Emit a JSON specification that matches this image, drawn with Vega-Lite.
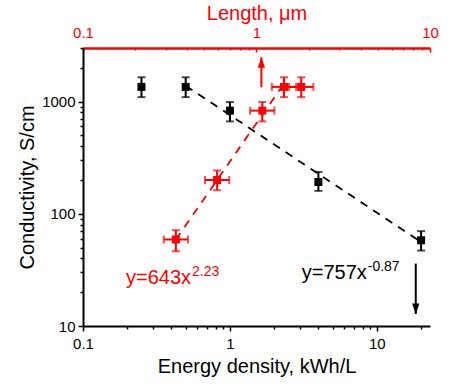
{
  "$schema": "https://vega.github.io/schema/vega-lite/v6.json",
  "width": 347,
  "height": 278,
  "autosize": {"type": "none"},
  "padding": {"left": 83, "top": 48, "right": 42, "bottom": 61},
  "config": {
    "view": {"stroke": null},
    "font": "Liberation Sans",
    "axis": {
      "grid": false,
      "labelFont": "Liberation Sans",
      "titleFont": "Liberation Sans",
      "labelFontSize": 15,
      "titleFontSize": 20,
      "titleFontWeight": "normal",
      "labelOverlap": false,
      "labelFlush": false,
      "domainWidth": 2,
      "tickWidth": 1.5
    }
  },
  "datasets": {
    "black": [
      {"e": 0.25, "s": 1350, "lo": 1095, "hi": 1645},
      {"e": 0.5, "s": 1350, "lo": 1095, "hi": 1645},
      {"e": 1, "s": 830, "lo": 665, "hi": 990},
      {"e": 4, "s": 192, "lo": 160, "hi": 236},
      {"e": 20, "s": 58, "lo": 47, "hi": 70}
    ],
    "blackfit": [
      {"e": 0.5, "s": 1384},
      {"e": 20, "s": 56}
    ],
    "blackarrow": [
      {"e": 18.4, "top": 36, "tip": 12.8}
    ],
    "red": [
      {"l": 0.343, "s": 59, "lo": 46.4, "hi": 71.4, "llo": 0.292, "lhi": 0.403},
      {"l": 0.593, "s": 200, "lo": 162, "hi": 243, "llo": 0.505, "lhi": 0.697},
      {"l": 1.08, "s": 830, "lo": 665, "hi": 990, "llo": 0.919, "lhi": 1.269},
      {"l": 1.44, "s": 1350, "lo": 1095, "hi": 1645, "llo": 1.226, "lhi": 1.692},
      {"l": 1.81, "s": 1350, "lo": 1095, "hi": 1645, "llo": 1.54, "lhi": 2.127}
    ],
    "redfit": [
      {"l": 0.343, "s": 59},
      {"l": 1.42, "s": 1400}
    ],
    "redarrow": [
      {"l": 1.067, "bot": 1340, "tip": 2480}
    ]
  },
  "layer": [
    {
      "data": {"name": "black"},
      "layer": [
        {
          "mark": {"type": "rule", "color": "black", "strokeWidth": 2},
          "encoding": {
            "x": {
              "field": "e", "type": "quantitative",
              "scale": {"type": "log", "domain": [0.1, 23], "nice": false, "zero": false},
              "axis": {
                "orient": "bottom",
                "title": "Energy density, kWh/L",
                "values": [0.1, 0.2, 0.3, 0.4, 0.5, 0.6, 0.7, 0.8, 0.9, 1, 2, 3, 4, 5, 6, 7, 8, 9, 10, 20],
                "labelExpr": "datum.value == 0.1 ? '0.1' : datum.value == 1 ? '1' : datum.value == 10 ? '10' : ''",
                "tickSize": {"condition": {"test": "datum.value == 0.1 || datum.value == 1 || datum.value == 10", "value": 5}, "value": 3},
                "domainColor": "black",
                "tickColor": "black",
                "labelColor": "black",
                "titleColor": "black",
                "labelPadding": 5,
                "titlePadding": 5
              }
            },
            "y": {
              "field": "lo", "type": "quantitative",
              "scale": {"type": "log", "domain": [10, 3000], "nice": false, "zero": false},
              "axis": {
                "orient": "left",
                "title": "Conductivity, S/cm",
                "values": [10, 20, 30, 40, 50, 60, 70, 80, 90, 100, 200, 300, 400, 500, 600, 700, 800, 900, 1000, 2000, 3000],
                "labelExpr": "datum.value == 10 ? '10' : datum.value == 100 ? '100' : datum.value == 1000 ? '1000' : ''",
                "tickSize": {"condition": {"test": "datum.value == 10 || datum.value == 100 || datum.value == 1000", "value": 5}, "value": 3},
                "domainColor": "black",
                "tickColor": "black",
                "labelColor": "black",
                "titleColor": "black",
                "labelPadding": 3,
                "titlePadding": 4
              }
            },
            "y2": {"field": "hi"}
          }
        },
        {
          "mark": {"type": "tick", "orient": "horizontal", "color": "black", "size": 8, "thickness": 2},
          "encoding": {
            "x": {"field": "e", "type": "quantitative", "scale": {"type": "log", "domain": [0.1, 23], "nice": false, "zero": false}},
            "y": {"field": "hi", "type": "quantitative", "scale": {"type": "log", "domain": [10, 3000], "nice": false, "zero": false}}
          }
        },
        {
          "mark": {"type": "tick", "orient": "horizontal", "color": "black", "size": 8, "thickness": 2},
          "encoding": {
            "x": {"field": "e", "type": "quantitative", "scale": {"type": "log", "domain": [0.1, 23], "nice": false, "zero": false}},
            "y": {"field": "lo", "type": "quantitative", "scale": {"type": "log", "domain": [10, 3000], "nice": false, "zero": false}}
          }
        },
        {
          "data": {"name": "blackfit"},
          "mark": {"type": "line", "color": "black", "strokeWidth": 1.8, "strokeDash": [8, 7]},
          "encoding": {
            "x": {"field": "e", "type": "quantitative", "scale": {"type": "log", "domain": [0.1, 23], "nice": false, "zero": false}},
            "y": {"field": "s", "type": "quantitative", "scale": {"type": "log", "domain": [10, 3000], "nice": false, "zero": false}}
          }
        },
        {
          "mark": {"type": "point", "shape": "square", "filled": true, "size": 64, "color": "black", "opacity": 1},
          "encoding": {
            "x": {"field": "e", "type": "quantitative", "scale": {"type": "log", "domain": [0.1, 23], "nice": false, "zero": false}},
            "y": {"field": "s", "type": "quantitative", "scale": {"type": "log", "domain": [10, 3000], "nice": false, "zero": false}}
          }
        },
        {
          "data": {"name": "blackarrow"},
          "mark": {"type": "rule", "color": "black", "strokeWidth": 2},
          "encoding": {
            "x": {"field": "e", "type": "quantitative", "scale": {"type": "log", "domain": [0.1, 23], "nice": false, "zero": false}},
            "y": {"field": "top", "type": "quantitative", "scale": {"type": "log", "domain": [10, 3000], "nice": false, "zero": false}},
            "y2": {"field": "tip"}
          }
        },
        {
          "data": {"name": "blackarrow"},
          "mark": {"type": "point", "shape": "M-0.7,-2L0.7,-2L0,0Z", "filled": true, "size": 110, "color": "black", "opacity": 1},
          "encoding": {
            "x": {"field": "e", "type": "quantitative", "scale": {"type": "log", "domain": [0.1, 23], "nice": false, "zero": false}},
            "y": {"field": "tip", "type": "quantitative", "scale": {"type": "log", "domain": [10, 3000], "nice": false, "zero": false}}
          }
        },
        {
          "data": {"values": [{"e": 3.08, "s": 26, "t": "y=757x"}]},
          "mark": {"type": "text", "align": "left", "baseline": "alphabetic", "font": "Liberation Sans", "fontSize": 20, "color": "black"},
          "encoding": {
            "x": {"field": "e", "type": "quantitative", "scale": {"type": "log", "domain": [0.1, 23], "nice": false, "zero": false}},
            "y": {"field": "s", "type": "quantitative", "scale": {"type": "log", "domain": [10, 3000], "nice": false, "zero": false}},
            "text": {"field": "t"}
          }
        },
        {
          "data": {"values": [{"e": 8.67, "s": 31, "t": "-0.87"}]},
          "mark": {"type": "text", "align": "left", "baseline": "alphabetic", "font": "Liberation Sans", "fontSize": 14, "color": "black"},
          "encoding": {
            "x": {"field": "e", "type": "quantitative", "scale": {"type": "log", "domain": [0.1, 23], "nice": false, "zero": false}},
            "y": {"field": "s", "type": "quantitative", "scale": {"type": "log", "domain": [10, 3000], "nice": false, "zero": false}},
            "text": {"field": "t"}
          }
        }
      ]
    },
    {
      "data": {"name": "red"},
      "layer": [
        {
          "mark": {"type": "rule", "color": "#ff0000", "strokeWidth": 2},
          "encoding": {
            "x": {
              "field": "l", "type": "quantitative",
              "scale": {"type": "log", "domain": [0.1, 10], "nice": false, "zero": false},
              "axis": {
                "orient": "top",
                "title": "Length, μm",
                "values": [0.1, 0.2, 0.3, 0.4, 0.5, 0.6, 0.7, 0.8, 0.9, 1, 2, 3, 4, 5, 6, 7, 8, 9, 10],
                "labelExpr": "datum.value == 0.1 ? '0.1' : datum.value == 1 ? '1' : datum.value == 10 ? '10' : ''",
                "tickSize": {"condition": {"test": "datum.value == 0.1 || datum.value == 1 || datum.value == 10", "value": -4}, "value": -2},
                "domainColor": "#ff0000",
                "tickColor": "#ff0000",
                "labelColor": "#ff0000",
                "titleColor": "#ff0000",
                "domainWidth": 2.5,
                "labelPadding": 12,
                "titlePadding": 0
              }
            },
            "y": {"field": "lo", "type": "quantitative", "scale": {"type": "log", "domain": [10, 3000], "nice": false, "zero": false}},
            "y2": {"field": "hi"}
          }
        },
        {
          "mark": {"type": "tick", "orient": "horizontal", "color": "#ff0000", "size": 8, "thickness": 2},
          "encoding": {
            "x": {"field": "l", "type": "quantitative", "scale": {"type": "log", "domain": [0.1, 10], "nice": false, "zero": false}},
            "y": {"field": "hi", "type": "quantitative", "scale": {"type": "log", "domain": [10, 3000], "nice": false, "zero": false}}
          }
        },
        {
          "mark": {"type": "tick", "orient": "horizontal", "color": "#ff0000", "size": 8, "thickness": 2},
          "encoding": {
            "x": {"field": "l", "type": "quantitative", "scale": {"type": "log", "domain": [0.1, 10], "nice": false, "zero": false}},
            "y": {"field": "lo", "type": "quantitative", "scale": {"type": "log", "domain": [10, 3000], "nice": false, "zero": false}}
          }
        },
        {
          "mark": {"type": "rule", "color": "#ff0000", "strokeWidth": 2},
          "encoding": {
            "x": {"field": "llo", "type": "quantitative", "scale": {"type": "log", "domain": [0.1, 10], "nice": false, "zero": false}},
            "x2": {"field": "lhi"},
            "y": {"field": "s", "type": "quantitative", "scale": {"type": "log", "domain": [10, 3000], "nice": false, "zero": false}}
          }
        },
        {
          "mark": {"type": "tick", "orient": "vertical", "color": "#ff0000", "size": 8, "thickness": 2},
          "encoding": {
            "x": {"field": "llo", "type": "quantitative", "scale": {"type": "log", "domain": [0.1, 10], "nice": false, "zero": false}},
            "y": {"field": "s", "type": "quantitative", "scale": {"type": "log", "domain": [10, 3000], "nice": false, "zero": false}}
          }
        },
        {
          "mark": {"type": "tick", "orient": "vertical", "color": "#ff0000", "size": 8, "thickness": 2},
          "encoding": {
            "x": {"field": "lhi", "type": "quantitative", "scale": {"type": "log", "domain": [0.1, 10], "nice": false, "zero": false}},
            "y": {"field": "s", "type": "quantitative", "scale": {"type": "log", "domain": [10, 3000], "nice": false, "zero": false}}
          }
        },
        {
          "data": {"name": "redfit"},
          "mark": {"type": "line", "color": "#ff0000", "strokeWidth": 1.8, "strokeDash": [8, 7]},
          "encoding": {
            "x": {"field": "l", "type": "quantitative", "scale": {"type": "log", "domain": [0.1, 10], "nice": false, "zero": false}},
            "y": {"field": "s", "type": "quantitative", "scale": {"type": "log", "domain": [10, 3000], "nice": false, "zero": false}}
          }
        },
        {
          "mark": {"type": "point", "shape": "square", "filled": true, "size": 64, "color": "#ff0000", "opacity": 1},
          "encoding": {
            "x": {"field": "l", "type": "quantitative", "scale": {"type": "log", "domain": [0.1, 10], "nice": false, "zero": false}},
            "y": {"field": "s", "type": "quantitative", "scale": {"type": "log", "domain": [10, 3000], "nice": false, "zero": false}}
          }
        },
        {
          "data": {"name": "redarrow"},
          "mark": {"type": "rule", "color": "#ff0000", "strokeWidth": 2},
          "encoding": {
            "x": {"field": "l", "type": "quantitative", "scale": {"type": "log", "domain": [0.1, 10], "nice": false, "zero": false}},
            "y": {"field": "bot", "type": "quantitative", "scale": {"type": "log", "domain": [10, 3000], "nice": false, "zero": false}},
            "y2": {"field": "tip"}
          }
        },
        {
          "data": {"name": "redarrow"},
          "mark": {"type": "point", "shape": "M-0.7,2L0.7,2L0,0Z", "filled": true, "size": 110, "color": "#ff0000", "opacity": 1},
          "encoding": {
            "x": {"field": "l", "type": "quantitative", "scale": {"type": "log", "domain": [0.1, 10], "nice": false, "zero": false}},
            "y": {"field": "tip", "type": "quantitative", "scale": {"type": "log", "domain": [10, 3000], "nice": false, "zero": false}}
          }
        },
        {
          "data": {"values": [{"l": 0.177, "s": 23.5, "t": "y=643x"}]},
          "mark": {"type": "text", "align": "left", "baseline": "alphabetic", "font": "Liberation Sans", "fontSize": 20, "color": "#ff0000"},
          "encoding": {
            "x": {"field": "l", "type": "quantitative", "scale": {"type": "log", "domain": [0.1, 10], "nice": false, "zero": false}},
            "y": {"field": "s", "type": "quantitative", "scale": {"type": "log", "domain": [10, 3000], "nice": false, "zero": false}},
            "text": {"field": "t"}
          }
        },
        {
          "data": {"values": [{"l": 0.425, "s": 27.8, "t": "2.23"}]},
          "mark": {"type": "text", "align": "left", "baseline": "alphabetic", "font": "Liberation Sans", "fontSize": 14, "color": "#ff0000"},
          "encoding": {
            "x": {"field": "l", "type": "quantitative", "scale": {"type": "log", "domain": [0.1, 10], "nice": false, "zero": false}},
            "y": {"field": "s", "type": "quantitative", "scale": {"type": "log", "domain": [10, 3000], "nice": false, "zero": false}},
            "text": {"field": "t"}
          }
        }
      ]
    }
  ],
  "resolve": {"scale": {"x": "independent"}}
}
